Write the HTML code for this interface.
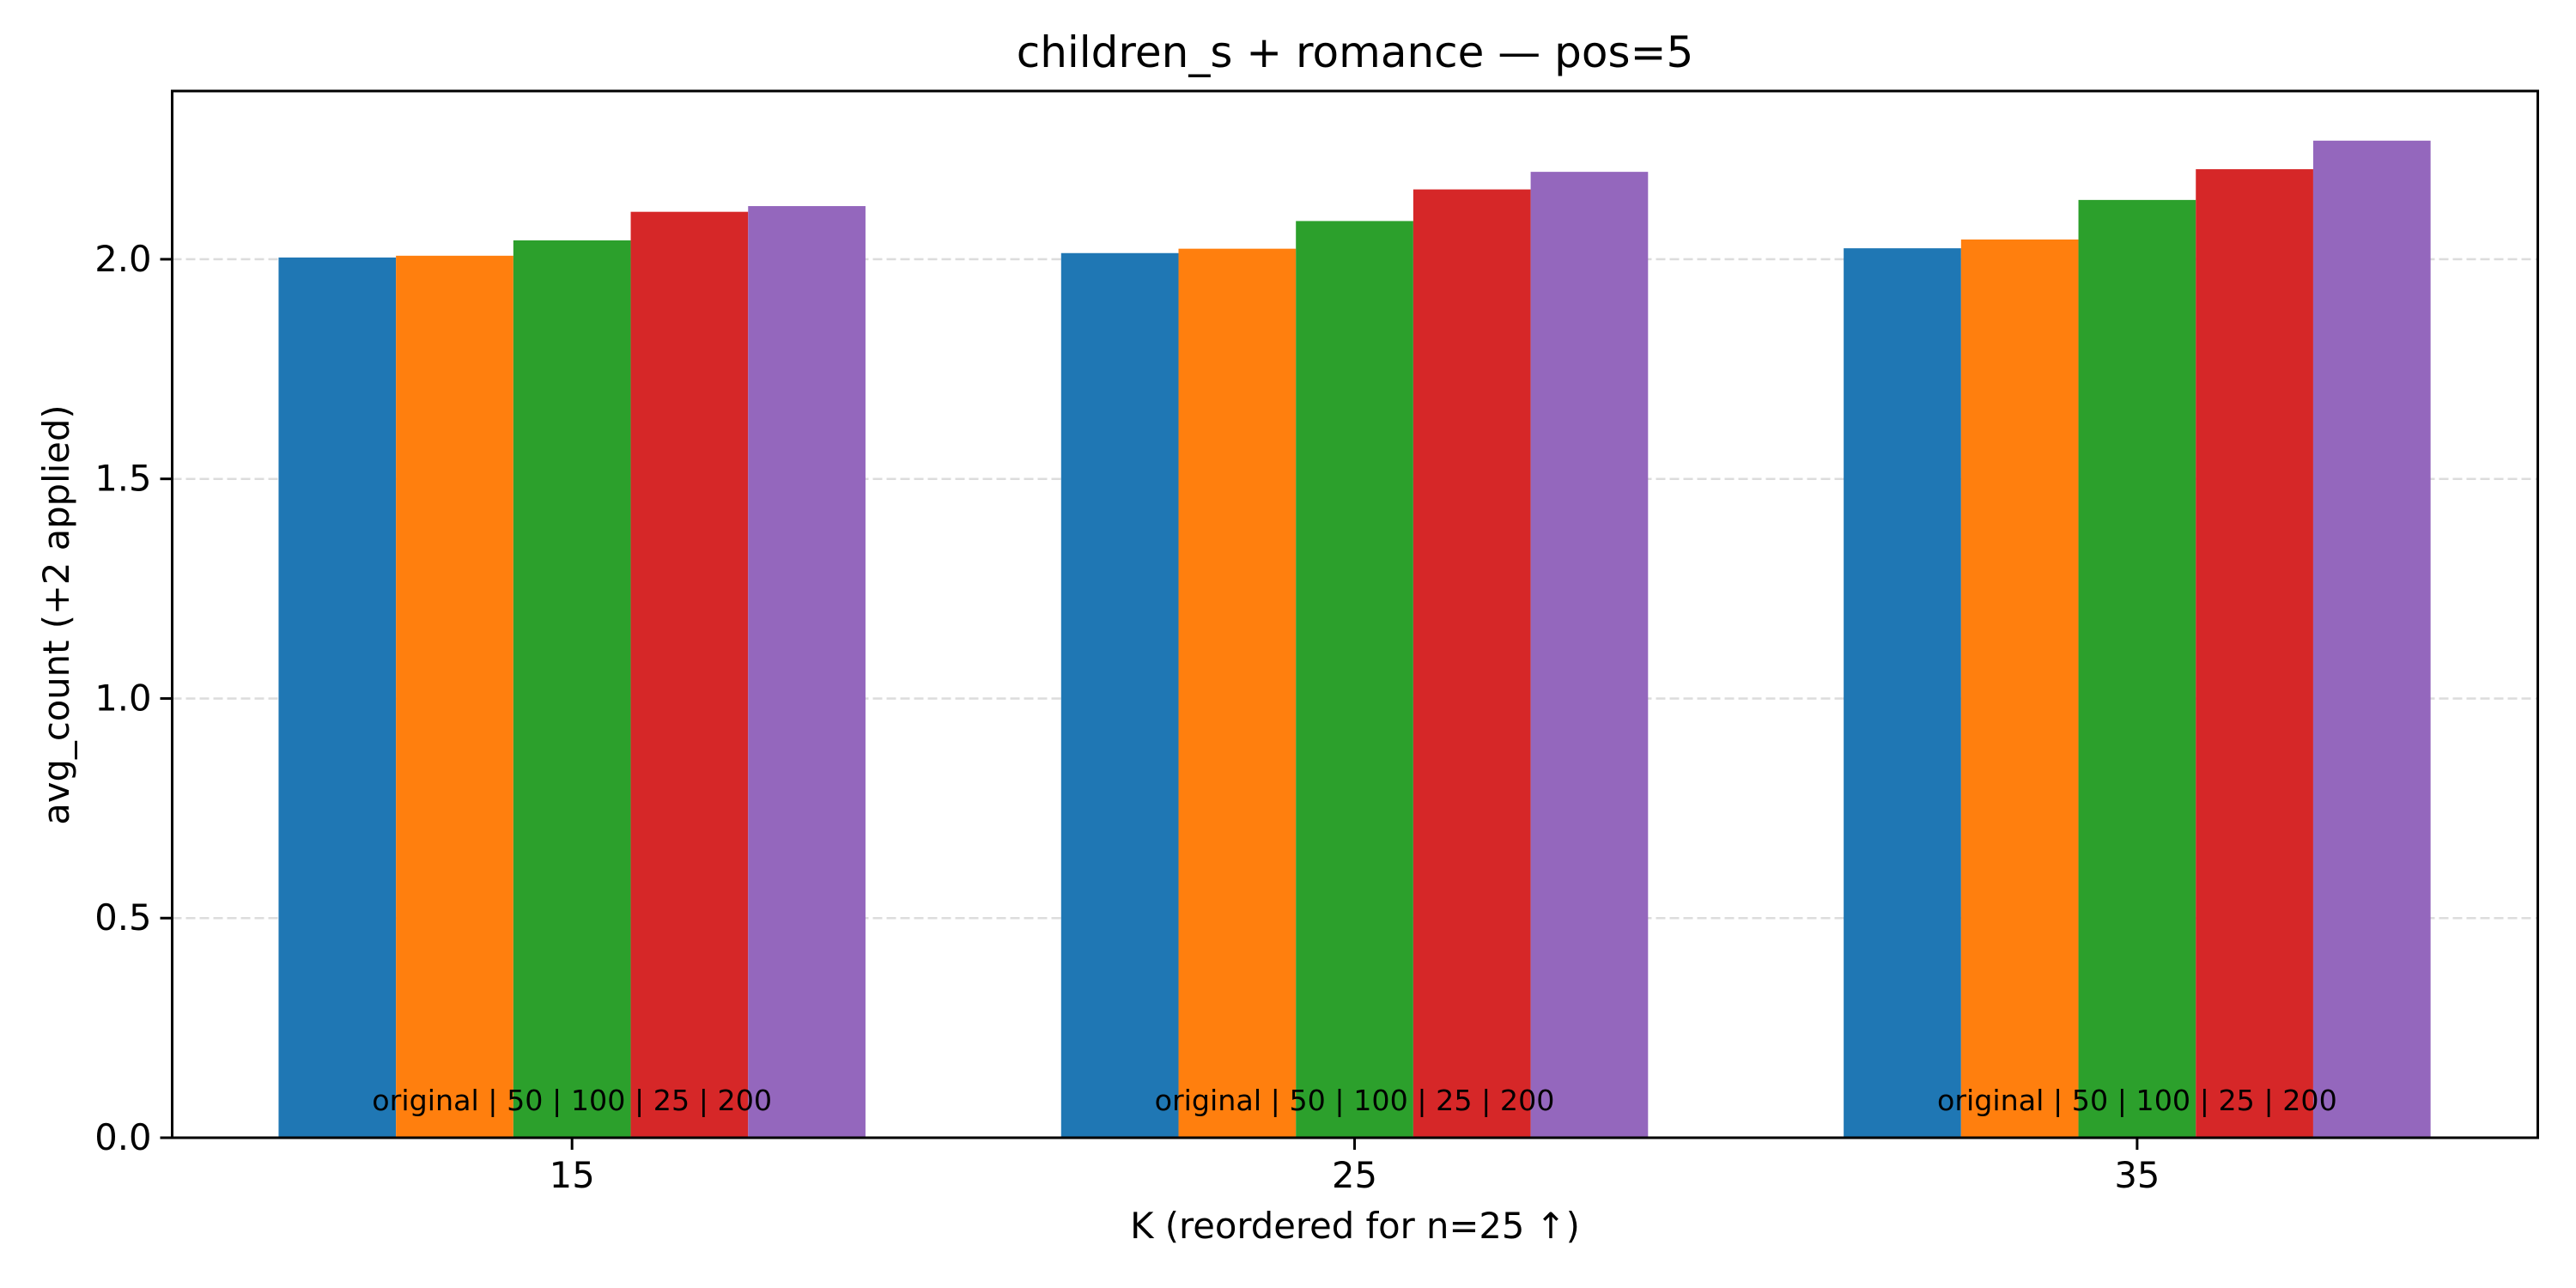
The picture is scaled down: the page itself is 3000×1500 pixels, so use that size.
<!DOCTYPE html>
<html><head><meta charset="utf-8"><style>
html,body{margin:0;padding:0;background:#fff;}
svg{display:block;font-family:"DejaVu Sans","Liberation Sans",sans-serif;}
</style></head><body>
<svg id="chart" width="3000" height="1500" viewBox="0 0 3000 1500" xmlns="http://www.w3.org/2000/svg">
<rect width="3000" height="1500" fill="#fff"/>
<text x="1578" y="78" font-size="50" text-anchor="middle">children_s + romance — pos=5</text>
<g id="grid"></g><g id="bars"></g><g id="ann"></g>
<rect x="200.5" y="106" width="2755" height="1219" fill="none" stroke="#000" stroke-width="3"/>
<g id="ticks"></g>
<text x="1578" y="1442" font-size="41.7" text-anchor="middle">K (reordered for n=25 ↑)</text>
<text transform="translate(80,716) rotate(-90)" font-size="41.7" text-anchor="middle">avg_count (+2 applied)</text>
</svg>
<script>
const categories = ["15", "25", "35"];
const seriesNames = ["original", "50", "100", "25", "200"];
const seriesOriginal = [2.004, 2.014, 2.025];
const series50 = [2.008, 2.024, 2.045];
const series100 = [2.043, 2.087, 2.135];
const series25 = [2.108, 2.159, 2.205];
const series200 = [2.121, 2.199, 2.270];
const yTicks = [0.0, 0.5, 1.0, 1.5, 2.0];
const yTickLabels = ["0.0", "0.5", "1.0", "1.5", "2.0"];
const annotationText = "original | 50 | 100 | 25 | 200";

const allSeries = [seriesOriginal, series50, series100, series25, series200];
const colors = ["#1f77b4", "#ff7f0e", "#2ca02c", "#d62728", "#9467bd"];
const NS = "http://www.w3.org/2000/svg";
const L = 200.5, R = 2955.5, T = 106, B = 1325;
const xMin = -0.511, xMax = 2.512, yMax = 2.383;
const xs = v => L + (v - xMin) / (xMax - xMin) * (R - L);
const ys = v => B - v / yMax * (B - T);
const barW = 0.15;
function mk(tag, attrs, parent) {
  const e = document.createElementNS(NS, tag);
  for (const k in attrs) e.setAttribute(k, attrs[k]);
  parent.appendChild(e);
  return e;
}
const grid = document.getElementById('grid');
const bars = document.getElementById('bars');
const ann = document.getElementById('ann');
const ticks = document.getElementById('ticks');

yTicks.forEach((t, i) => {
  if (t > 0) {
    const g = mk('line', {x1: L, x2: R, y1: ys(t), y2: ys(t), stroke: '#dcdcdc', 'stroke-width': 2.5, 'stroke-dasharray': '11 5'}, grid);
    
    
  }
  const tk = mk('line', {x1: L - 14, x2: L, y1: ys(t), y2: ys(t), stroke: '#000', 'stroke-width': 3}, ticks);
  
  
  const lb = mk('text', {x: L - 24, y: ys(t) + 14, 'font-size': 41.7, 'text-anchor': 'end'}, ticks);
  lb.textContent = yTickLabels[i];
  
  
});

categories.forEach((c, ci) => {
  allSeries.forEach((s, si) => {
    const x0 = ci + (si - 2) * barW - barW / 2;
    const r = mk('rect', {x: xs(x0), y: ys(s[ci]), width: xs(x0 + barW) - xs(x0), height: ys(0) - ys(s[ci]), fill: colors[si]}, bars);
    
    
  });
  const a = mk('text', {x: xs(ci), y: 1293, 'font-size': 33.3, 'text-anchor': 'middle'}, ann);
  a.textContent = annotationText;
  
  
  const tk = mk('line', {x1: xs(ci), x2: xs(ci), y1: B, y2: B + 14, stroke: '#000', 'stroke-width': 3}, ticks);
  
  
  const lb = mk('text', {x: xs(ci), y: B + 58, 'font-size': 41.7, 'text-anchor': 'middle'}, ticks);
  lb.textContent = c;
  
  
});
</script>
</body></html>
